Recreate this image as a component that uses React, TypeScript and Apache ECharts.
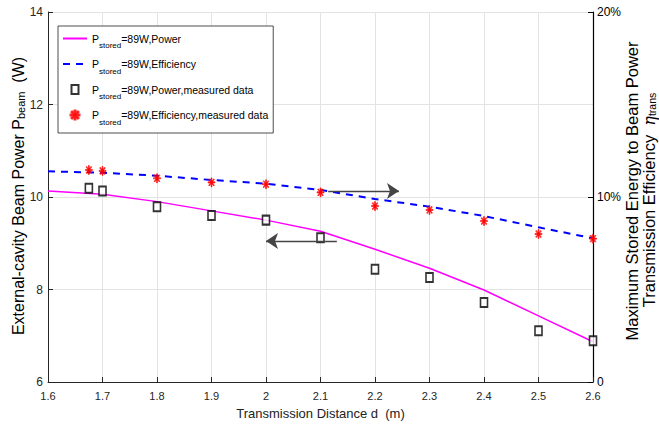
import React, { useEffect, useRef } from "react";
import * as echarts from "echarts";

const distances = [1.6, 1.7, 1.8, 1.9, 2.0, 2.1, 2.2, 2.3, 2.4, 2.5, 2.6];
const powerModel = [10.13, 10.06, 9.9, 9.7, 9.5, 9.26, 8.87, 8.46, 7.99, 7.43, 6.87];
const effModel = [11.39, 11.31, 11.15, 10.92, 10.72, 10.38, 9.89, 9.48, 8.97, 8.36, 7.77];
const measDistances = [1.675, 1.7, 1.8, 1.9, 2.0, 2.1, 2.2, 2.3, 2.4, 2.5, 2.6];
const powerMeasured = [10.19, 10.13, 9.79, 9.6, 9.5, 9.12, 8.44, 8.26, 7.72, 7.11, 6.89];
const effMeasured = [11.46, 11.41, 11.01, 10.79, 10.69, 10.25, 9.51, 9.3, 8.7, 8.0, 7.75];
const legendSuffix: Record<string, string> = {
  pw: "=89W,Power",
  ef: "=89W,Efficiency",
  pwm: "=89W,Power,measured data",
  efm: "=89W,Efficiency,measured data",
};
// annotation arrows in data coordinates (d, P_beam)
const arrowRight = [[2.114, 10.13], [2.244, 10.13]];
const arrowLeft = [[2.13, 9.05], [2.0, 9.05]];

const SANS = "'Liberation Sans', Arial, sans-serif";

const asterisk =
  "path://M4.4 0 L5.6 0 L5.6 10 L4.4 10 Z M0 4.4 L10 4.4 L10 5.6 L0 5.6 Z M1.0 1.8 L1.8 1.0 L9.0 8.2 L8.2 9.0 Z M8.2 1.0 L9.0 1.8 L1.8 9.0 L1.0 8.2 Z";
const squareSym = "path://M0 0 L7 0 L7 9 L0 9 Z";

export default function App() {
  const ref = useRef<HTMLDivElement>(null);
  useEffect(() => {
    if (!ref.current) return;
    const chart = echarts.init(ref.current, undefined, { renderer: "svg" });
    const pair = (xs: number[], ys: number[]) => xs.map((x, i) => [x, ys[i]]);
    chart.setOption({
      animation: false,
      backgroundColor: "#ffffff",
      grid: { left: 48, right: 66, top: 12, bottom: 52, containLabel: false },
      legend: {
        left: 58,
        top: 26,
        orient: "vertical",
        backgroundColor: "#ffffff",
        borderColor: "#222",
        borderWidth: 0.8,
        borderRadius: 0,
        padding: [7, 5, 7, 4],
        itemGap: 9,
        itemWidth: 24,
        itemHeight: 9,
        data: [
          { name: "pw", itemStyle: { opacity: 0 } },
          { name: "ef", itemStyle: { opacity: 0 } },
          { name: "pwm" },
          { name: "efm" },
        ],
        formatter: (name: string) => `{m|P}{s|stored}{m|${legendSuffix[name]}}`,
        textStyle: {
          fontFamily: SANS,
          color: "#000",
          rich: {
            m: { fontSize: 10.5, fontFamily: SANS, color: "#000", lineHeight: 22, verticalAlign: "middle" },
            s: { fontSize: 8, fontFamily: SANS, color: "#000", lineHeight: 8, verticalAlign: "bottom" },
          },
        },
      },
      xAxis: {
        type: "value",
        min: 1.6,
        max: 2.6,
        interval: 0.1,
        name: "Transmission Distance d  (m)",
        nameLocation: "middle",
        nameGap: 25,
        nameTextStyle: { fontFamily: SANS, fontSize: 13, color: "#222" },
        axisLine: { onZero: false, lineStyle: { color: "#262626", width: 1 } },
        axisTick: { inside: true, length: 5, lineStyle: { color: "#262626" } },
        axisLabel: {
          margin: 8,
          fontFamily: SANS,
          fontSize: 11,
          color: "#262626",
          formatter: (v: number) => String(+v.toFixed(1)),
        },
        splitLine: { show: true, lineStyle: { color: "#e3e3e3", width: 1 } },
      },
      yAxis: [
        {
          type: "value",
          min: 6,
          max: 14,
          interval: 2,
          position: "left",
          axisLine: { show: true, onZero: false, lineStyle: { color: "#262626", width: 1 } },
          axisTick: { show: true, inside: true, length: 5, lineStyle: { color: "#262626" } },
          axisLabel: { margin: 5, fontFamily: SANS, fontSize: 12, color: "#262626" },
          splitLine: { show: true, lineStyle: { color: "#e3e3e3", width: 1 } },
        },
        {
          type: "value",
          min: 0,
          max: 20,
          interval: 10,
          position: "right",
          axisLine: { show: true, onZero: false, lineStyle: { color: "#000", width: 1.2 } },
          axisTick: { show: true, inside: true, length: 5, lineStyle: { color: "#000" } },
          axisLabel: {
            margin: 4,
            fontFamily: SANS,
            fontSize: 12,
            color: "#000",
            formatter: (v: number) => (v === 0 ? "0" : `${v}%`),
          },
          splitLine: { show: false },
        },
      ],
      graphic: [
        {
          type: "text",
          x: 18,
          y: 196,
          rotation: Math.PI / 2,
          style: {
            text: "External-cavity Beam Power P{s|beam}  (W)",
            fontFamily: SANS,
            fontSize: 16,
            fill: "#000",
            align: "center",
            verticalAlign: "middle",
            rich: {
              s: { fontSize: 11, fontFamily: SANS, fill: "#000", verticalAlign: "bottom", lineHeight: 12 },
            },
          },
        },
        {
          type: "text",
          x: 632,
          y: 191,
          rotation: Math.PI / 2,
          style: {
            text: "Maximum Stored Energy to Beam Power",
            fontFamily: SANS,
            fontSize: 16.5,
            fill: "#000",
            align: "center",
            verticalAlign: "middle",
          },
        },
        {
          type: "text",
          x: 649,
          y: 200,
          rotation: Math.PI / 2,
          style: {
            text: "Transmission Efficiency  {eta|η}{s|trans}",
            fontFamily: SANS,
            fontSize: 16.5,
            fill: "#000",
            align: "center",
            verticalAlign: "middle",
            rich: {
              eta: { fontSize: 16, fontFamily: "'DejaVu Serif', serif", fontStyle: "italic", fill: "#000" },
              s: { fontSize: 10.5, fontFamily: SANS, fill: "#000", verticalAlign: "bottom", lineHeight: 12 },
            },
          },
        },
      ],
      series: [
        {
          name: "pw",
          type: "line",
          yAxisIndex: 0,
          data: pair(distances, powerModel),
          symbol: "none",
          lineStyle: { color: "#ff00ff", width: 1.5 },
          itemStyle: { color: "#ff00ff" },
          z: 2,
          markLine: {
            silent: true,
            symbol: ["none", "arrow"],
            symbolSize: 12,
            label: { show: false },
            lineStyle: { color: "#444", width: 1.3, type: "solid" },
            itemStyle: { color: "#111" },
            data: [
              [{ coord: arrowRight[0] }, { coord: arrowRight[1] }],
              [{ coord: arrowLeft[0] }, { coord: arrowLeft[1] }],
            ],
          },
        },
        {
          name: "ef",
          type: "line",
          yAxisIndex: 1,
          data: pair(distances, effModel),
          symbol: "none",
          lineStyle: { color: "#0000ff", width: 2, type: [7, 6] },
          itemStyle: { color: "#0000ff" },
          z: 2,
        },
        {
          name: "pwm",
          type: "scatter",
          yAxisIndex: 0,
          data: pair(measDistances, powerMeasured),
          symbol: squareSym,
          symbolSize: [7, 9],
          itemStyle: { color: "#ffffff", borderColor: "#000", borderWidth: 1.8 },
          z: 4,
        },
        {
          name: "efm",
          type: "scatter",
          yAxisIndex: 1,
          data: pair(measDistances, effMeasured),
          symbol: asterisk,
          symbolSize: [7, 9],
          itemStyle: { color: "#ff0000", borderColor: "#ff0000", borderWidth: 0.8 },
          z: 4,
        },
      ],
    });
    return () => chart.dispose();
  }, []);
  return <div ref={ref} style={{ width: 659, height: 434, position: "absolute", left: 0, top: 0 }} />;
}
